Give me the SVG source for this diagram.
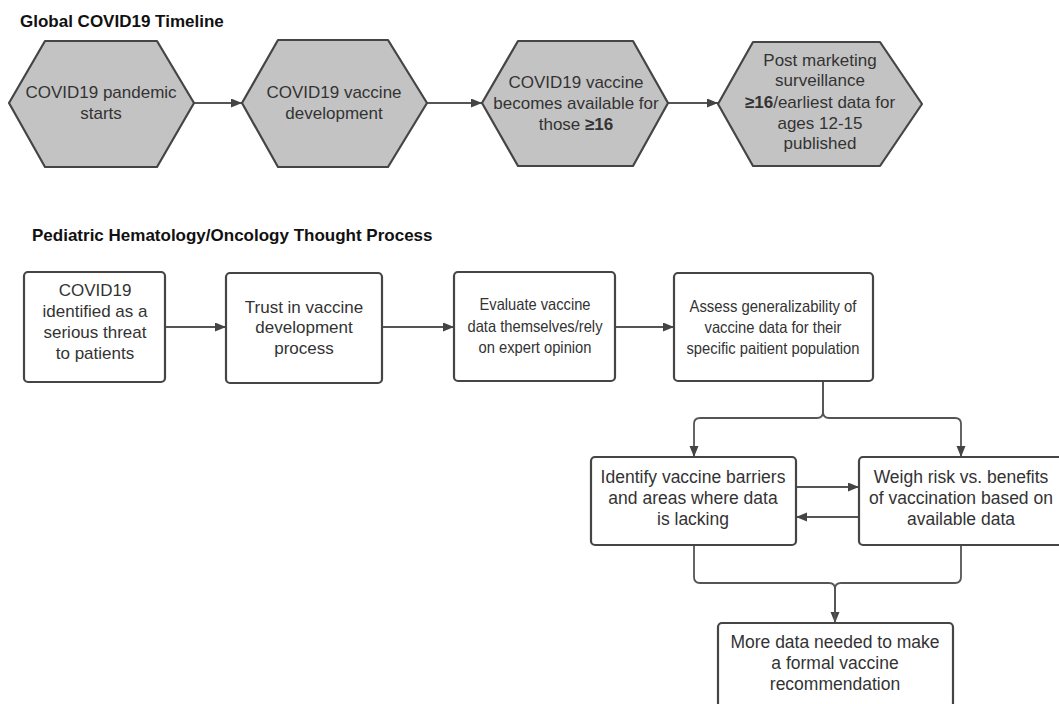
<svg xmlns="http://www.w3.org/2000/svg" width="1059" height="704" viewBox="0 0 1059 704">
<defs>
<marker id="ah" markerUnits="userSpaceOnUse" markerWidth="12" markerHeight="10" refX="11" refY="4.5" orient="auto">
<path d="M0,0 L11,4.5 L0,9 z" fill="#444"/>
</marker>
<style>
.hex{fill:#c3c3c3;stroke:#454545;stroke-width:2.2;stroke-linejoin:round}
.box{fill:#fff;stroke:#454545;stroke-width:2.2}
.t{font-family:"Liberation Sans",Arial,sans-serif;font-size:17px;fill:#333;text-anchor:middle}
.s{font-size:16.5px}
.l{font-size:17.5px}
.h{font-family:"Liberation Sans",Arial,sans-serif;font-size:17px;font-weight:bold;fill:#111}
.c{fill:none;stroke:#555;stroke-width:1.8}
</style>
</defs>
<rect width="1059" height="704" fill="#fff"/>
<text class="h" x="20" y="27">Global COVID19 Timeline</text>
<text class="h" x="32" y="241">Pediatric Hematology/Oncology Thought Process</text>

<g id="connectors">
<path class="c" d="M194 103 H242" marker-end="url(#ah)"/>
<path class="c" d="M427 103 H482" marker-end="url(#ah)"/>
<path class="c" d="M668 103 H718" marker-end="url(#ah)"/>
<path class="c" d="M165 327 H226" marker-end="url(#ah)"/>
<path class="c" d="M382 327 H454" marker-end="url(#ah)"/>
<path class="c" d="M615 327 H674" marker-end="url(#ah)"/>
<path class="c" d="M823 381 V412 Q823 418 817 418 H700 Q694 418 694 424 V457" marker-end="url(#ah)"/>
<path class="c" d="M823 381 V412 Q823 418 829 418 H955 Q961 418 961 424 V457" marker-end="url(#ah)"/>
<path class="c" d="M796 487 H859" marker-end="url(#ah)"/>
<path class="c" d="M859 517 H796" marker-end="url(#ah)"/>
<path class="c" d="M694 545 V577 Q694 583 700 583 H829 Q835 583 835 589 V623" marker-end="url(#ah)"/>
<path class="c" d="M961 545 V577 Q961 583 955 583 H841 Q835 583 835 589 V623"/>
</g>

<g id="hex1">
<polygon class="hex" points="45,41 157,41 194,103 157,167 45,167 9,103"/>
<text class="t" x="101" y="98">COVID19 pandemic</text>
<text class="t" x="101" y="119">starts</text>
</g>
<g id="hex2">
<polygon class="hex" points="278,40 388,40 427,103 388,167 278,167 242,103"/>
<text class="t" x="334" y="98">COVID19 vaccine</text>
<text class="t" x="334" y="119">development</text>
</g>
<g id="hex3">
<polygon class="hex" points="518,41 633,41 668,103 633,166 518,166 482,103"/>
<text class="t" x="576" y="88">COVID19 vaccine</text>
<text class="t" x="576" y="109">becomes available for</text>
<text class="t" x="576" y="130">those <tspan font-weight="bold">≥16</tspan></text>
</g>
<g id="hex4">
<polygon class="hex" points="753,42 880,42 922,104 880,166 753,166 718,104"/>
<text class="t" x="820" y="66">Post marketing</text>
<text class="t" x="820" y="86">surveillance</text>
<text class="t" x="820" y="108"><tspan font-weight="bold">≥16</tspan>/earliest data for</text>
<text class="t" x="820" y="129">ages 12-15</text>
<text class="t" x="820" y="149">published</text>
</g>

<g id="box1">
<rect class="box" x="24" y="272" width="141" height="110" rx="4"/>
<text class="t" x="95" y="296">COVID19</text>
<text class="t" x="95" y="317">identified as a</text>
<text class="t" x="95" y="338">serious threat</text>
<text class="t" x="95" y="359">to patients</text>
</g>
<g id="box2">
<rect class="box" x="226" y="273" width="156" height="110" rx="4"/>
<text class="t" x="304" y="313">Trust in vaccine</text>
<text class="t" x="304" y="333">development</text>
<text class="t" x="304" y="354">process</text>
</g>
<g id="box3">
<rect class="box" x="454" y="272" width="161" height="109" rx="4"/>
<text class="t s" x="535" y="310" textLength="111" lengthAdjust="spacingAndGlyphs">Evaluate vaccine</text>
<text class="t s" x="535" y="332" textLength="135" lengthAdjust="spacingAndGlyphs">data themselves/rely</text>
<text class="t s" x="535" y="353" textLength="113" lengthAdjust="spacingAndGlyphs">on expert opinion</text>
</g>
<g id="box4">
<rect class="box" x="674" y="273" width="199" height="108" rx="4"/>
<text class="t s" x="773" y="312" textLength="167" lengthAdjust="spacingAndGlyphs">Assess generalizability of</text>
<text class="t s" x="773" y="333" textLength="137" lengthAdjust="spacingAndGlyphs">vaccine data for their</text>
<text class="t s" x="773" y="354" textLength="173" lengthAdjust="spacingAndGlyphs">specific paitient population</text>
</g>
<g id="box5">
<rect class="box" x="591" y="457" width="205" height="88" rx="4"/>
<text class="t l" x="693" y="483">Identify vaccine barriers</text>
<text class="t l" x="693" y="504">and areas where data</text>
<text class="t l" x="693" y="525">is lacking</text>
</g>
<g id="box6">
<rect class="box" x="859" y="457" width="204" height="88" rx="4"/>
<text class="t l" x="961" y="483">Weigh risk vs. benefits</text>
<text class="t l" x="961" y="504">of vaccination based on</text>
<text class="t l" x="961" y="525">available data</text>
</g>
<g id="box7">
<rect class="box" x="718" y="623" width="235" height="84" rx="4"/>
<text class="t l" x="835" y="648">More data needed to make</text>
<text class="t l" x="835" y="669">a formal vaccine</text>
<text class="t l" x="835" y="690">recommendation</text>
</g>
</svg>
